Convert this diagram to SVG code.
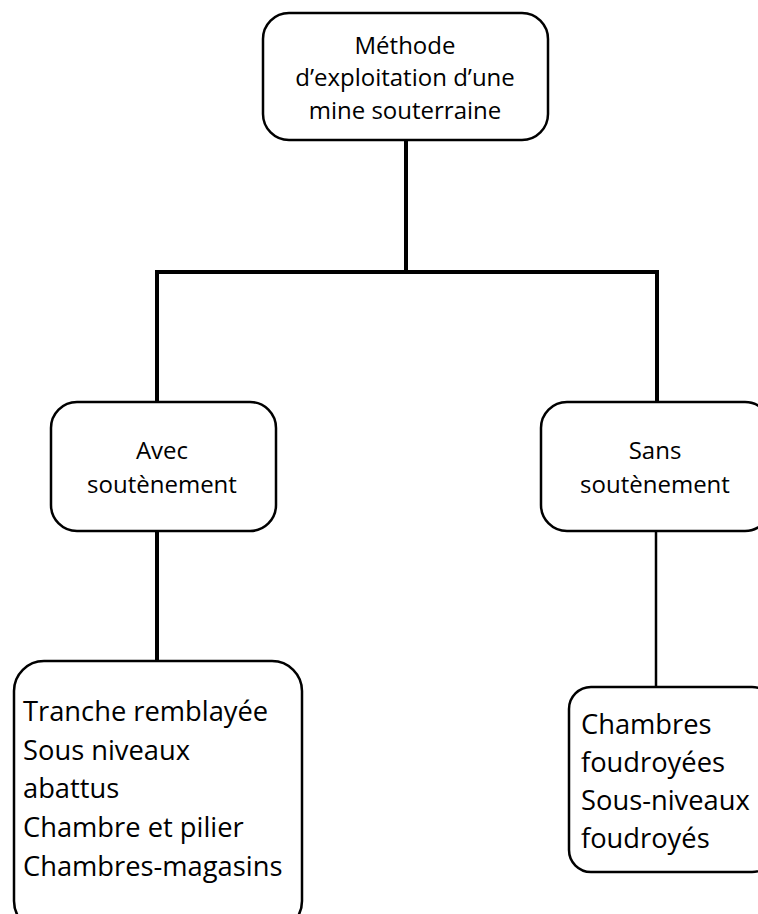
<svg xmlns="http://www.w3.org/2000/svg" width="758" height="914" viewBox="0 0 758 914">
  <style>
    .box { fill: #ffffff; stroke: #000000; stroke-width: 2.5; }
    .link { fill: none; stroke: #000000; stroke-width: 4; }
    .thin { stroke-width: 2.5; }
    .t { font-family: "Open Sans", "Noto Sans", sans-serif; fill: #000000; }
    .mid { text-anchor: middle; font-size: 24px; }
    .list { font-size: 27.3px; }
  </style>
  <rect width="758" height="914" fill="#ffffff"/>

  <g id="connectors">
    <line class="link" x1="406" y1="141" x2="406" y2="272"/>
    <line class="link" x1="155" y1="272" x2="659" y2="272"/>
    <line class="link" x1="157" y1="270" x2="157" y2="403"/>
    <line class="link" x1="657" y1="270" x2="657" y2="403"/>
    <line class="link" x1="157" y1="531" x2="157" y2="662"/>
    <line class="link thin" x1="656" y1="531" x2="656" y2="688"/>
  </g>

  <g id="root">
    <rect class="box" x="263" y="13" width="285" height="127" rx="26"/>
    <text class="t mid" x="405" y="54">Méthode</text>
    <text class="t mid" x="405" y="86">d’exploitation d’une</text>
    <text class="t mid" x="405" y="119">mine souterraine</text>
  </g>

  <g id="avec">
    <rect class="box" x="51" y="402" width="225" height="129" rx="26"/>
    <text class="t mid" x="162" y="459">Avec</text>
    <text class="t mid" x="162" y="493">soutènement</text>
  </g>

  <g id="sans">
    <rect class="box" x="541" y="402" width="230" height="129" rx="26"/>
    <text class="t mid" x="655" y="459">Sans</text>
    <text class="t mid" x="655" y="493">soutènement</text>
  </g>

  <g id="avec-list">
    <rect class="box" x="14" y="661" width="288" height="270" rx="30"/>
    <text class="t list" x="23" y="721">Tranche remblayée</text>
    <text class="t list" x="23" y="760">Sous niveaux</text>
    <text class="t list" x="23" y="798">abattus</text>
    <text class="t list" x="23" y="837">Chambre et pilier</text>
    <text class="t list" x="23" y="876">Chambres-magasins</text>
  </g>

  <g id="sans-list">
    <rect class="box" x="569" y="687" width="205" height="185" rx="22"/>
    <text class="t list" x="581" y="734">Chambres</text>
    <text class="t list" x="581" y="772">foudroyées</text>
    <text class="t list" x="581" y="810">Sous-niveaux</text>
    <text class="t list" x="581" y="848">foudroyés</text>
  </g>
</svg>
